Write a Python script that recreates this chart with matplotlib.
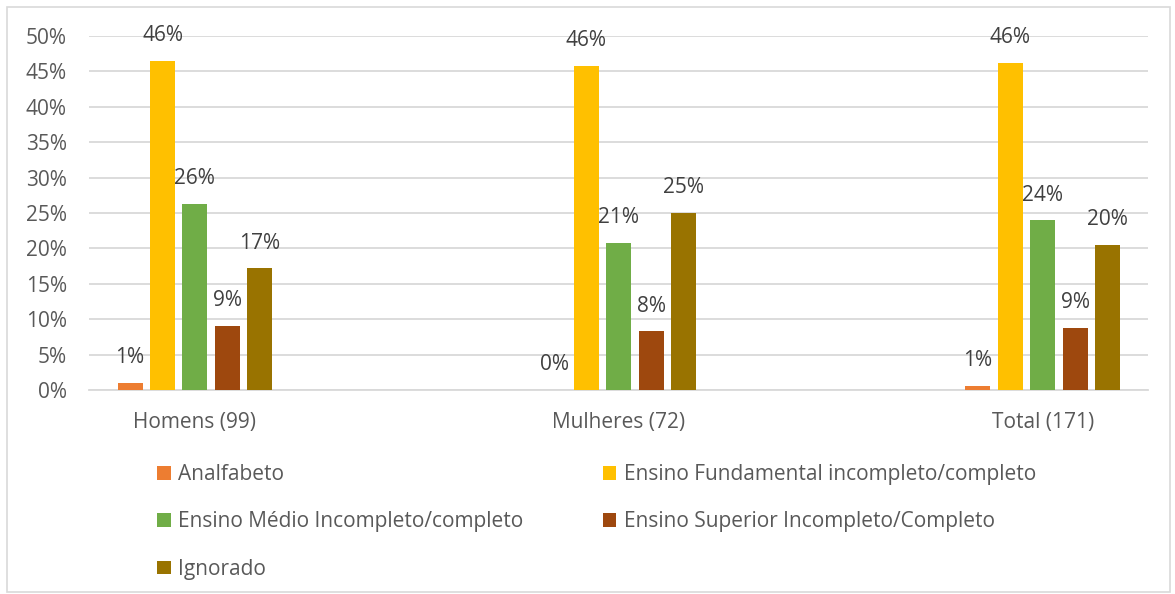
import numpy as np
import matplotlib.pyplot as plt
from matplotlib.patches import Rectangle

plt.rcParams['font.family'] = ['Open Sans', 'DejaVu Sans']

groups = ['Homens (99)', 'Mulheres (72)', 'Total (171)']
series = ['Analfabeto',
          'Ensino Fundamental incompleto/completo',
          'Ensino Médio Incompleto/completo',
          'Ensino Superior Incompleto/Completo',
          'Ignorado']
colors = ['#ED7D31', '#FFC000', '#70AD47', '#9E480E', '#997300']

# percent per group (Homens, Mulheres, Total)
analfabeto = [1.0, 0.0, 0.6]
fundamental = [46.5, 45.8, 46.2]
medio = [26.3, 20.8, 24.0]
superior = [9.1, 8.3, 8.8]
ignorado = [17.2, 25.0, 20.5]
values = [analfabeto, fundamental, medio, superior, ignorado]

text_color = '#595959'
label_color = '#404040'

fig = plt.figure(figsize=(11.75, 5.94), dpi=100)
ax = fig.add_axes([0.0757, 0.3434, 0.9013, 0.596])

x = np.arange(len(groups))
width = 0.059
step = 0.0765
bars = []
for i, (name, vals) in enumerate(zip(series, values)):
    pos = x + (i - 2) * step
    b = ax.bar(pos, vals, width, color=colors[i], label=name, zorder=3)
    bars.append(b)
    for px, v in zip(pos, vals):
        ax.annotate('%d%%' % round(v), (px, v), xytext=(0, 10.5),
                    textcoords='offset points', ha='center', va='bottom',
                    fontsize=15, color=label_color)

ax.set_xlim(-0.25, 2.248)
ax.set_ylim(0, 50)
ax.set_yticks(np.arange(0, 51, 5))
ax.set_yticklabels(['%d%%' % t for t in range(0, 51, 5)])
ax.set_xticks(x)
ax.set_xticklabels(groups)
ax.tick_params(axis='y', length=0, pad=16, labelsize=15, labelcolor=text_color)
ax.tick_params(axis='x', length=0, pad=16, labelsize=15, labelcolor=text_color)
ax.grid(axis='y', color='#D9D9D9', linewidth=1.3, zorder=0)
for s in ['top', 'right', 'left']:
    ax.spines[s].set_visible(False)
ax.spines['bottom'].set_color('#D9D9D9')
ax.spines['bottom'].set_linewidth(1.3)

order = [0, 2, 4, 1, 3]
leg = fig.legend([bars[i] for i in order], [series[i] for i in order],
                 ncol=2, loc='upper left', bbox_to_anchor=(0.134, 0.219),
                 frameon=False, fontsize=15, handlelength=0.65, handleheight=0.65,
                 handletextpad=0.35, labelspacing=1.27, columnspacing=3.8,
                 borderaxespad=0, borderpad=0)
for t in leg.get_texts():
    t.set_color(text_color)

fig.patches.append(Rectangle((7 / 1175, 2 / 594), 1163 / 1175, 585 / 594,
                             transform=fig.transFigure, fill=False,
                             edgecolor='#D9D9D9', linewidth=1.2))

fig.savefig('out.png', dpi=100)
